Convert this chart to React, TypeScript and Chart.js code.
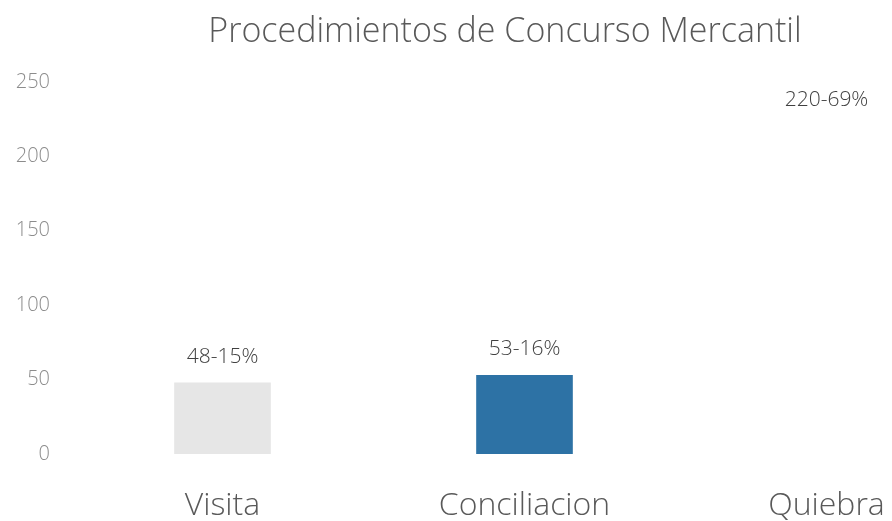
import React, { useEffect, useRef } from "react";
import { Chart, registerables } from "chart.js";

Chart.register(...registerables);

const title = "Procedimientos de Concurso Mercantil";
const categories = ["Visita", "Conciliacion", "Quiebra"];
const values = [48, 53, 220];
const percents = [15, 16, 69];
const barColors = ["#e6e6e6", "#2d72a5", "#ffffff"];
const yTicks = [0, 50, 100, 150, 200, 250];

const FONT = "'Open Sans', Lato, sans-serif";

const labelPlugin = {
  id: "barLabels",
  afterLayout(chart: any) {
    // centre the title over the visible page width
    if (chart.titleBlock) {
      chart.titleBlock.left = 24.5;
    }
  },
  afterDatasetsDraw(chart: any) {
    const ctx = chart.ctx;
    const meta = chart.getDatasetMeta(0);
    ctx.save();
    ctx.font = `300 21px ${FONT}`;
    ctx.fillStyle = "#404040";
    ctx.textAlign = "center";
    ctx.textBaseline = "middle";
    meta.data.forEach((bar: any, i: number) => {
      ctx.fillText(`${values[i]}-${percents[i]}%`, bar.x, bar.y - 26);
    });
    ctx.restore();
  },
};

export default function App() {
  const ref = useRef<HTMLCanvasElement>(null);
  useEffect(() => {
    if (!ref.current) return;
    const chart = new Chart(ref.current, {
      type: "bar",
      data: {
        labels: categories,
        datasets: [
          {
            data: values,
            backgroundColor: barColors,
            borderWidth: 0,
            barPercentage: 0.32,
            categoryPercentage: 1,
          },
        ],
      },
      options: {
        responsive: false,
        animation: false,
        layout: { padding: { left: 0, right: 22.5, top: 0, bottom: 0 } },
        plugins: {
          legend: { display: false },
          tooltip: { enabled: false },
          title: {
            display: true,
            text: title,
            color: "#595959",
            font: { family: FONT, size: 34, weight: "300" as any },
            padding: { top: 4, bottom: 29 },
          },
        },
        scales: {
          x: {
            grid: { display: false, drawTicks: false },
            border: { display: false },
            afterFit(scale: any) {
              scale.height = 67;
            },
            ticks: {
              color: "#595959",
              font: { family: FONT, size: 32, weight: "300" as any },
              padding: 33,
              maxRotation: 0,
            },
          },
          y: {
            min: 0,
            max: 250,
            grid: { display: false, drawTicks: false },
            border: { display: false },
            afterFit(scale: any) {
              scale.width = 63.5;
            },
            afterBuildTicks(scale: any) {
              scale.ticks = yTicks.map((v) => ({ value: v }));
            },
            ticks: {
              color: "#8c8c8c",
              font: { family: FONT, size: 20, weight: "300" as any },
              padding: 21.5,
            },
          },
        },
      },
      plugins: [labelPlugin],
    });
    return () => chart.destroy();
  }, []);
  return (
    <div style={{ width: 884, height: 513, overflow: "hidden" }}>
      <canvas ref={ref} width={992} height={513} style={{ display: "block" }} />
    </div>
  );
}
